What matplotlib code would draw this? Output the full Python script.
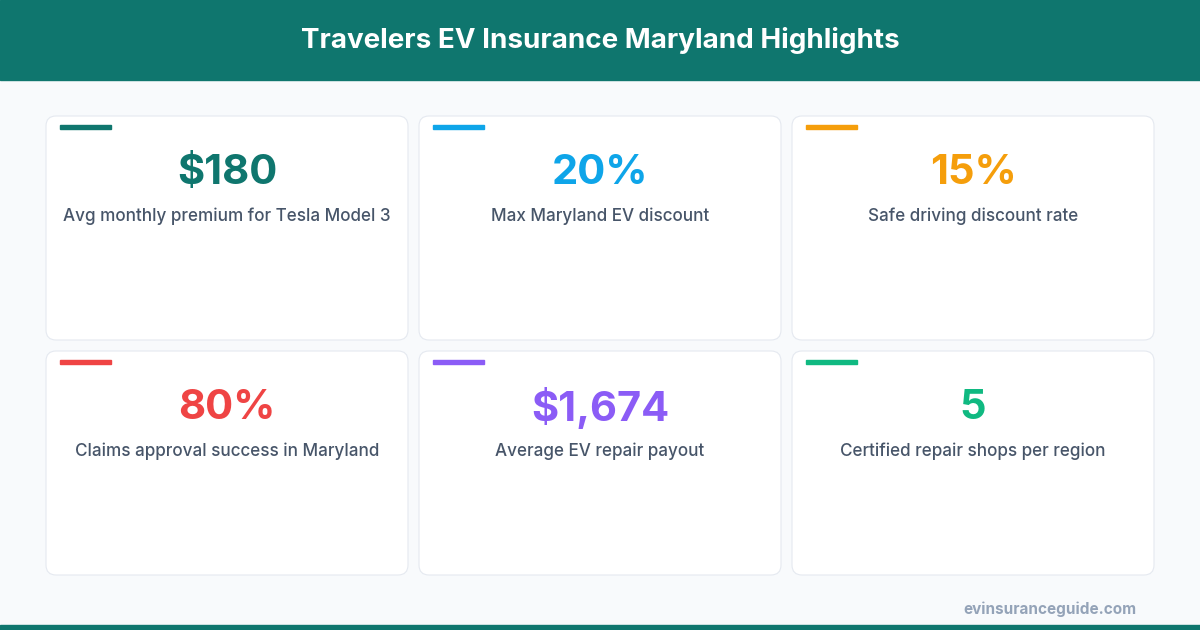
import matplotlib
matplotlib.use("Agg")
import matplotlib.pyplot as plt
from matplotlib.patches import FancyBboxPatch, Rectangle

title = "Travelers EV Insurance Maryland Highlights"
values = ["$180", "20%", "15%", "80%", "$1,674", "5"]
labels = ["Avg monthly premium for Tesla Model 3", "Max Maryland EV discount",
          "Safe driving discount rate", "Claims approval success in Maryland",
          "Average EV repair payout", "Certified repair shops per region"]
colors = ["#0f766e", "#0ea5e9", "#f59e0b", "#ef4444", "#8b5cf6", "#10b981"]
footer = "evinsuranceguide.com"

fig = plt.figure(figsize=(12, 6.3), dpi=100)
fig.patch.set_facecolor("#f8fafc")
ax = fig.add_axes([0, 0, 1, 1])
ax.set_xlim(0, 1200); ax.set_ylim(630, 0); ax.axis("off")

ax.add_patch(Rectangle((0, 0), 1200, 80, color="#0f766e", zorder=1))
ax.text(600, 41, title, color="white", fontsize=20, fontweight="bold",
        family="Inter", ha="center", va="center")
ax.add_patch(Rectangle((0, 625), 1200, 5, color="#0f766e"))

xs = [46, 419, 792]; ys = [116, 351]; w, h = 362, 224
for i, (v, l, c) in enumerate(zip(values, labels, colors)):
    x = xs[i % 3]; y = ys[i // 3]
    ax.add_patch(FancyBboxPatch((x, y), w, h, boxstyle="round,pad=0,rounding_size=10",
                                facecolor="white", edgecolor="#e5e9f0", linewidth=0.8))
    ax.add_patch(Rectangle((x + 14, y + 9), 51, 4, color=c))
    ax.text(x + w / 2, y + 57, v, color=c, fontsize=30, fontweight="bold",
            family="Inter", ha="center", va="center")
    ax.text(x + w / 2, y + 100, l, color="#475569", fontsize=12.3, fontweight="medium",
            family="Inter", ha="center", va="center")

ax.text(1136, 609, footer, color="#94a3b8", fontsize=11, fontweight="bold",
        family="Inter", ha="right", va="center")
fig.savefig("out.png", dpi=100, facecolor=fig.get_facecolor())
